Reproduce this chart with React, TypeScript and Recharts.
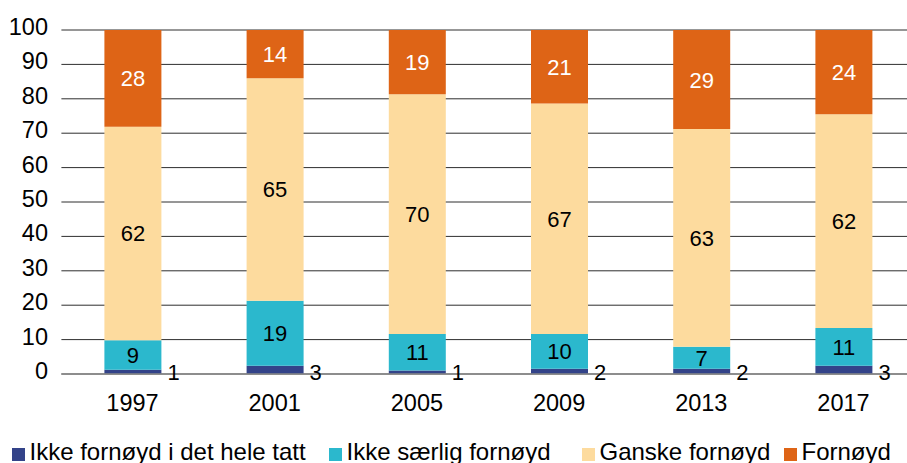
import React from 'react';
import { BarChart, Bar, XAxis, YAxis, CartesianGrid, LabelList } from 'recharts';

const years = ['1997', '2001', '2005', '2009', '2013', '2017'];
// segment heights (percent)
const ikkeHele = [1.2, 2.4, 1.0, 1.5, 1.5, 2.4];
const ikkeSaerlig = [8.6, 18.9, 10.6, 10.1, 6.4, 11.0];
const ganske = [62.1, 64.7, 69.7, 67.0, 63.3, 62.1];
const fornoyd = [28.1, 14.0, 18.7, 21.4, 28.8, 24.5];
// printed value labels
const ikkeHeleLabels = [1, 3, 1, 2, 2, 3];
const ikkeSaerligLabels = [9, 19, 11, 10, 7, 11];
const ganskeLabels = [62, 65, 70, 67, 63, 62];
const fornoydLabels = [28, 14, 19, 21, 29, 24];
const yTicks = [0, 10, 20, 30, 40, 50, 60, 70, 80, 90, 100];

const seriesNames = ['Ikke fornøyd i det hele tatt', 'Ikke særlig fornøyd', 'Ganske fornøyd', 'Fornøyd'];
const seriesColors = ['#334389', '#2bb8cd', '#fddb9e', '#de6416'];

const data = years.map((y, i) => ({
  year: y,
  s0: ikkeHele[i],
  s1: ikkeSaerlig[i],
  s2: ganske[i],
  s3: fornoyd[i],
  l0: ikkeHeleLabels[i],
  l1: ikkeSaerligLabels[i],
  l2: ganskeLabels[i],
  l3: fornoydLabels[i],
}));

const FONT = 'Arial, "Liberation Sans", Helvetica, sans-serif';

const XTick = (props: any) => {
  const { x, payload } = props;
  return (
    <text x={x} y={411} textAnchor="middle" fontFamily={FONT} fontSize={23.5} fill="#000">
      {payload.value}
    </text>
  );
};

const YTick = (props: any) => {
  const { y, payload } = props;
  return (
    <text x={48} y={y + 5} textAnchor="end" fontFamily={FONT} fontSize={23.5} fill="#000">
      {payload.value}
    </text>
  );
};

const makeCenterLabel = (color: string) => (props: any) => {
  const vb = props.viewBox || props;
  const { x, y, width, height } = vb;
  return (
    <text
      x={x + width / 2}
      y={y + height / 2 + 8}
      textAnchor="middle"
      fontFamily={FONT}
      fontSize={22}
      fill={color}
    >
      {props.value}
    </text>
  );
};

const OutsideLabel = (props: any) => {
  const vb = props.viewBox || props;
  const { x, y, width, height } = vb;
  return (
    <text x={x + width + 6} y={y + height + 6} textAnchor="start" fontFamily={FONT} fontSize={22} fill="#000">
      {props.value}
    </text>
  );
};

const legendX = [12, 329, 582, 784];

export default function App() {
  return (
    <div style={{ position: 'absolute', left: 0, top: 0, width: 907, height: 463, overflow: 'hidden', background: '#fff' }}>
      <BarChart
        width={915}
        height={463}
        data={data}
        margin={{ top: 30, right: 0.4, left: 0, bottom: 0 }}
        barSize={57}
      >
        <CartesianGrid vertical={false} stroke="#2e2e2e" strokeWidth={1} />
        <XAxis
          dataKey="year"
          height={89}
          tickLine={false}
          axisLine={{ stroke: '#8a8a8a', strokeWidth: 1.5 }}
          tick={<XTick />}
          interval={0}
        />
        <YAxis
          width={61.4}
          domain={[0, 100]}
          ticks={yTicks}
          axisLine={false}
          tickLine={false}
          tick={<YTick />}
          interval={0}
        />
        <Bar dataKey="s0" stackId="a" fill={seriesColors[0]} isAnimationActive={false}>
          <LabelList dataKey="l0" content={OutsideLabel} />
        </Bar>
        <Bar dataKey="s1" stackId="a" fill={seriesColors[1]} isAnimationActive={false}>
          <LabelList dataKey="l1" content={makeCenterLabel('#000')} />
        </Bar>
        <Bar dataKey="s2" stackId="a" fill={seriesColors[2]} isAnimationActive={false}>
          <LabelList dataKey="l2" content={makeCenterLabel('#000')} />
        </Bar>
        <Bar dataKey="s3" stackId="a" fill={seriesColors[3]} isAnimationActive={false}>
          <LabelList dataKey="l3" content={makeCenterLabel('#fff')} />
        </Bar>
      </BarChart>
      <svg width={907} height={43} style={{ position: 'absolute', left: 0, top: 420 }}>
        {seriesNames.map((name, i) => (
          <g key={name}>
            <rect x={legendX[i]} y={28} width={13} height={13} fill={seriesColors[i]} />
            <text x={legendX[i] + 17.5} y={40} fontFamily={FONT} fontSize={24} fill="#000">
              {name}
            </text>
          </g>
        ))}
      </svg>
    </div>
  );
}
